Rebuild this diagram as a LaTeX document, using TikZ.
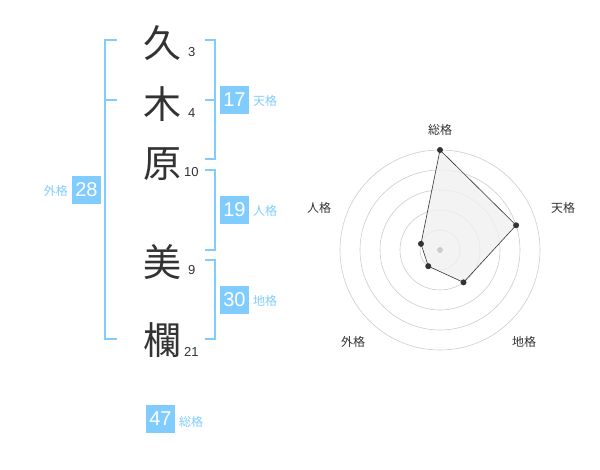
\documentclass[tikz,border=0pt]{standalone}
\usepackage{fontspec}
\usetikzlibrary{calc}
\setmainfont{Liberation Sans}
\newfontfamily\cjk{Noto Sans CJK JP}
\definecolor{kblue}{HTML}{80CCFF}
\definecolor{ktext}{HTML}{333333}
\definecolor{kgrid}{HTML}{CCCCCC}
\begin{document}
\begin{tikzpicture}[x=1pt,y=-1pt,
  bigchar/.style={font=\cjk\fontsize{38}{38}\selectfont, text=ktext, inner sep=0pt},
  stroke/.style={font=\fontsize{13}{13}\selectfont, text=ktext, inner sep=0pt, anchor=base west},
  kbox/.style={fill=kblue, text=white, minimum width=29pt, minimum height=28pt, inner sep=0pt, font=\fontsize{20}{20}\selectfont},
  klabel/.style={font=\cjk\fontsize{12}{12}\selectfont, text=kblue, inner sep=0pt},
  bracket/.style={draw=kblue, line width=1.6pt},
  rlabel/.style={font=\cjk\fontsize{12}{12}\selectfont, text=ktext, inner sep=0pt},
  dot/.style={circle, fill=ktext, inner sep=0pt, minimum size=6pt}]
\useasboundingbox (0,0) rectangle (600,470);
% characters
\node[bigchar] (c1) at (162,43) {久};
\node[bigchar] (c2) at (162,104) {木};
\node[bigchar] (c3) at (162,164) {原};
\node[bigchar] (c4) at (162,262) {美};
\node[bigchar] (c5) at (162,340) {欄};
\node[stroke] (n1) at (188,57) {3};
\node[stroke] (n2) at (188,118) {4};
\node[stroke] (n3) at (184,177) {10};
\node[stroke] (n4) at (188,275) {9};
\node[stroke] (n5) at (184,356) {21};
% left bracket (gaikaku)
\coordinate (la) at (117,40);
\coordinate (lb) at (105,40);
\coordinate (lc) at (105,339);
\coordinate (ld) at (117,339);
\coordinate (le) at (105,100);
\coordinate (lf) at (117,100);
\draw[bracket] (la) -- (lb) -- (lc) -- (ld);
\draw[bracket] (le) -- (lf);
\node[kbox] (b28) at (86.5,190) {28};
\node[klabel, anchor=east] (t28) at (68,191) {外格};
% tenkaku bracket
\coordinate (ta) at (205,40);
\coordinate (tb) at (215,40);
\coordinate (tc) at (215,159);
\coordinate (td) at (205,159);
\coordinate (te) at (205,100);
\coordinate (tf) at (215,100);
\draw[bracket] (ta) -- (tb) -- (tc) -- (td);
\draw[bracket] (te) -- (tf);
\node[kbox] (b17) at (234.5,100) {17};
\node[klabel, anchor=west] (t17) at (253,101) {天格};
% jinkaku bracket
\coordinate (ja) at (205,170);
\coordinate (jb) at (215,170);
\coordinate (jc) at (215,250);
\coordinate (jd) at (205,250);
\draw[bracket] (ja) -- (jb) -- (jc) -- (jd);
\node[kbox] (b19) at (234.5,210) {19};
\node[klabel, anchor=west] (t19) at (253,211) {人格};
% chikaku bracket
\coordinate (ka) at (205,260);
\coordinate (kb) at (215,260);
\coordinate (kc) at (215,339);
\coordinate (kd) at (205,339);
\draw[bracket] (ka) -- (kb) -- (kc) -- (kd);
\node[kbox] (b30) at (234.5,300) {30};
\node[klabel, anchor=west] (t30) at (253,301) {地格};
% soukaku
\node[kbox] (b47) at (160.5,419) {47};
\node[klabel, anchor=west] (t47) at (179,422) {総格};
% radar chart
\coordinate (o) at (440,250);
\foreach \r in {20,40,60,80,100} \draw[kgrid, line width=0.6pt] (o) circle[radius=\r];
\coordinate (p1) at (440,150);
\coordinate (p2) at ($(o)+(-18:80)$);
\coordinate (p3) at ($(o)+(54:40)$);
\coordinate (p4) at ($(o)+(126:20)$);
\coordinate (p5) at ($(o)+(198:20)$);
\fill[black!6, opacity=0.8] (p1) -- (p2) -- (p3) -- (p4) -- (p5) -- cycle;
\draw[ktext, line width=0.6pt] (p1) -- (p2) -- (p3) -- (p4) -- (p5) -- cycle;
\node[circle, fill=kgrid, inner sep=0pt, minimum size=6pt] (oc) at (o) {};
\foreach \p in {p1,p2,p3,p4,p5} \node[dot] (d\p) at (\p) {};
\node[rlabel] (r1) at (440,130) {総格};
\node[rlabel] (r2) at (563,208) {天格};
\node[rlabel] (r3) at (524,342) {地格};
\node[rlabel] (r4) at (353,342) {外格};
\node[rlabel] (r5) at (319,208) {人格};
\end{tikzpicture}
\end{document}
